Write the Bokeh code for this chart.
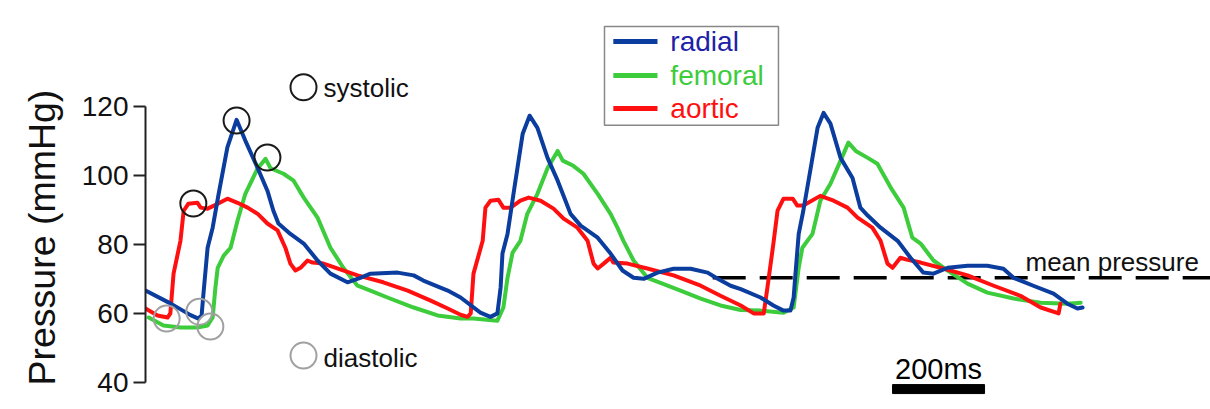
from bokeh.plotting import figure
from bokeh.models import Range1d, FixedTicker, Title
from bokeh.core.properties import value
from bokeh.embed import file_html
from bokeh.resources import INLINE

# ---------------- data (time in ms, pressure in mmHg) ----------------
radial_t = [0, 54, 98, 115, 122, 126, 135, 146, 159, 178, 198, 217, 244, 265, 278, 289, 315, 344,
            374, 402, 439, 467, 489, 548, 583, 604, 657, 685, 728, 750, 765, 772, 776, 787, 800,
            820, 835, 852, 874, 896, 913, 924, 946, 983, 1011, 1037, 1061, 1083, 1113, 1148, 1185,
            1222, 1244, 1272, 1294, 1337, 1365, 1387, 1402, 1409, 1413, 1420, 1430, 1446, 1461,
            1474, 1489, 1511, 1537, 1554, 1570, 1598, 1635, 1663, 1691, 1713, 1744, 1787, 1830,
            1865, 1887, 1930, 1974, 2004, 2026, 2037]
radial_p = [66.6, 62.9, 59.5, 58.5, 59.5, 65.7, 79.0, 84.8, 94.6, 108.0, 116.0, 110.0, 102.0, 95.5,
            89.7, 86.0, 83.0, 80.2, 75.3, 71.5, 69.0, 70.3, 71.5, 71.8, 71.0, 69.5, 66.6, 64.6, 60.2,
            59.0, 60.0, 67.5, 77.3, 83.0, 94.6, 112.0, 117.2, 113.7, 105.0, 98.4, 92.6, 88.8, 85.4,
            81.9, 77.3, 72.4, 70.3, 70.0, 71.8, 72.9, 72.9, 71.8, 70.0, 68.0, 67.0, 64.6, 62.3,
            60.8, 60.8, 64.6, 71.5, 83.0, 89.7, 102.0, 113.7, 118.0, 114.9, 105.0, 99.2, 90.6, 88.3,
            84.8, 81.0, 76.1, 71.8, 71.5, 73.2, 73.8, 73.8, 72.9, 70.3, 68.0, 65.7, 62.8, 61.4, 61.7]

femoral_t = [7, 39, 76, 113, 135, 146, 152, 157, 170, 185, 200, 217, 244, 261, 272, 300, 322, 344,
             374, 402, 430, 461, 489, 526, 583, 635, 685, 713, 765, 778, 787, 798, 815, 830, 852,
             874, 896, 907, 930, 952, 983, 1011, 1026, 1039, 1061, 1091, 1135, 1163, 1207, 1250,
             1294, 1337, 1387, 1409, 1420, 1428, 1450, 1467, 1489, 1511, 1528, 1544, 1570, 1591,
             1620, 1648, 1667, 1685, 1713, 1744, 1787, 1830, 1887, 1946, 2004, 2033]
femoral_p = [58.8, 56.5, 55.9, 55.9, 56.5, 58.8, 67.5, 73.2, 76.7, 79.0, 86.8, 94.6, 102.0, 104.7,
             102.0, 100.4, 98.4, 93.5, 87.7, 79.0, 73.2, 68.0, 66.6, 64.6, 61.7, 59.4, 58.5, 58.5,
             57.9, 61.7, 70.3, 77.6, 81.0, 88.8, 94.6, 102.0, 107.0, 104.2, 102.7, 100.4, 94.6, 88.8,
             84.8, 81.0, 75.3, 70.3, 68.0, 66.6, 64.3, 62.3, 61.0, 60.8, 60.2, 61.7, 73.2, 79.0, 83.0,
             92.6, 97.5, 104.2, 109.4, 107.0, 105.0, 103.3, 96.4, 90.6, 81.9, 80.2, 75.3, 72.4, 68.6,
             66.0, 64.3, 63.1, 62.8, 63.1]

aortic_t = [0, 26, 48, 54, 61, 76, 83, 93, 113, 120, 135, 157, 178, 200, 222, 244, 265, 287, 304,
            315, 326, 337, 352, 363, 387, 417, 461, 517, 570, 620, 657, 685, 700, 707, 713, 733, 739,
            750, 767, 778, 794, 815, 833, 859, 887, 909, 939, 961, 974, 983, 996, 1011, 1017, 1048,
            1091, 1148, 1207, 1250, 1294, 1322, 1344, 1352, 1365, 1374, 1387, 1407, 1417, 1430,
            1467, 1496, 1526, 1548, 1580, 1598, 1613, 1624, 1641, 1657, 1685, 1728, 1787, 1844,
            1902, 1946, 1985, 1989]
aortic_p = [61.4, 59.4, 58.8, 60.0, 71.5, 81.0, 89.7, 91.7, 92.0, 90.6, 90.3, 91.7, 93.2, 92.0, 90.6,
            88.8, 86.0, 84.0, 79.0, 74.4, 72.4, 73.2, 75.3, 74.7, 74.4, 73.0, 71.0, 69.0, 66.6, 63.7,
            61.4, 59.6, 59.0, 60.0, 71.5, 81.0, 90.6, 92.6, 92.9, 90.6, 90.6, 92.6, 93.5, 92.6, 90.3,
            87.4, 84.8, 81.0, 74.4, 73.0, 74.4, 76.1, 74.7, 74.4, 73.0, 71.0, 68.0, 65.1, 62.3, 60.0,
            60.0, 67.5, 80.2, 89.7, 93.2, 93.2, 91.2, 91.2, 94.0, 92.6, 90.6, 87.7, 84.8, 81.0, 74.4,
            73.2, 76.1, 75.5, 74.7, 73.2, 71.0, 68.0, 65.1, 61.7, 60.0, 62.8]

systolic_t = [104, 198, 265]
systolic_p = [91.8, 115.8, 105.1]
diastolic_t = [46, 117, 141]
diastolic_p = [58.5, 60.5, 56.2]

mean_pressure = 70.3
mean_t = [1233, 2320]
scale_bar_ms = 200
scale_bar_start = 1624

y_ticks = [40, 60, 80, 100, 120]
series_names = ["radial", "femoral", "aortic"]
series_colors = ["#0b3d9e", "#3ccc3c", "#ff1010"]
legend_text_colors = ["#1f1fa8", "#3ccc3c", "#ff1010"]

FONT = "Liberation Sans"

p = figure(width=1210, height=409, output_backend="svg", toolbar_location=None,
           x_range=Range1d(0, 2315.2), y_range=Range1d(32.19, 150.53),
           x_axis_location=None, min_border_left=145, min_border_right=0,
           min_border_top=0, min_border_bottom=0)
p.outline_line_color = None
p.xgrid.visible = False
p.ygrid.visible = False
p.background_fill_color = "white"
p.border_fill_color = "white"

ax = p.yaxis[0]
ax.ticker = FixedTicker(ticks=y_ticks)
ax.bounds = (40, 120)
ax.axis_line_width = 2
ax.axis_line_color = "#222222"
ax.major_tick_line_width = 2
ax.major_tick_line_color = "#222222"
ax.major_tick_out = 12
ax.major_tick_in = 0
ax.minor_tick_out = 0
ax.minor_tick_in = 0
ax.major_label_text_font = FONT
ax.major_label_text_font_size = "28px"
ax.major_label_text_color = "#111111"
ax.major_label_standoff = 5

p.add_layout(Title(text="Pressure (mmHg)", align="left", offset=24, standoff=31,
                   text_font=FONT, text_font_size="37.5px", text_font_style="normal",
                   text_color="#111111"), "left")

# mean pressure line
p.line(mean_t, [mean_pressure, mean_pressure], line_color="black", line_width=3.5,
       line_dash="33 14")
p.text(x=[1913], y=[75.0], text=["mean pressure"], text_font=value(FONT),
       text_font_size="26px", text_baseline="middle", text_align="left", text_color="#111111")

# curves
data = [(radial_t, radial_p), (femoral_t, femoral_p), (aortic_t, aortic_p)]
for i in [1, 2, 0]:
    t, pr = data[i]
    p.line(t, pr, line_color=series_colors[i], line_width=4, line_join="round", line_cap="round")

# markers
p.scatter(systolic_t, systolic_p, marker="circle", size=26, fill_color=None,
          line_color="#1a1a1a", line_width=2)
p.scatter(diastolic_t, diastolic_p, marker="circle", size=26, fill_color=None,
          line_color="#a0a0a0", line_width=2)

# marker legend
p.scatter([343.5], [125.4], marker="circle", size=26, fill_color=None, line_color="#1a1a1a", line_width=2)
p.scatter([343.5], [47.8], marker="circle", size=26, fill_color=None, line_color="#a0a0a0", line_width=2)
p.text(x=[387, 387], y=[125.1, 47.2], text=["systolic", "diastolic"], text_font=value(FONT),
       text_font_size="26px", text_baseline="middle", text_align="left", text_color="#111111")

# series legend box
p.quad(left=[997.8], right=[1376], top=[143.0], bottom=[114.4], fill_color="white",
       line_color="#888888", line_width=1.5)
leg_y = [138.7, 128.8, 119.3]
for i in range(3):
    p.line([1017, 1113], [leg_y[i], leg_y[i]], line_color=series_colors[i], line_width=5)
p.text(x=[1141] * 3, y=leg_y, text=series_names, text_font=value(FONT), text_font_size="28px",
       text_baseline="middle", text_align="left", text_color=legend_text_colors)

# scale bar
p.quad(left=[scale_bar_start], right=[scale_bar_start + scale_bar_ms], top=[39.4], bottom=[36.8],
       fill_color="black", line_color="black")
p.text(x=[scale_bar_start + scale_bar_ms / 2], y=[43.8], text=["200ms"], text_font=value(FONT),
       text_font_size="29px", text_baseline="middle", text_align="center", text_color="black")

open("out.html", "w").write(file_html(p, INLINE))
